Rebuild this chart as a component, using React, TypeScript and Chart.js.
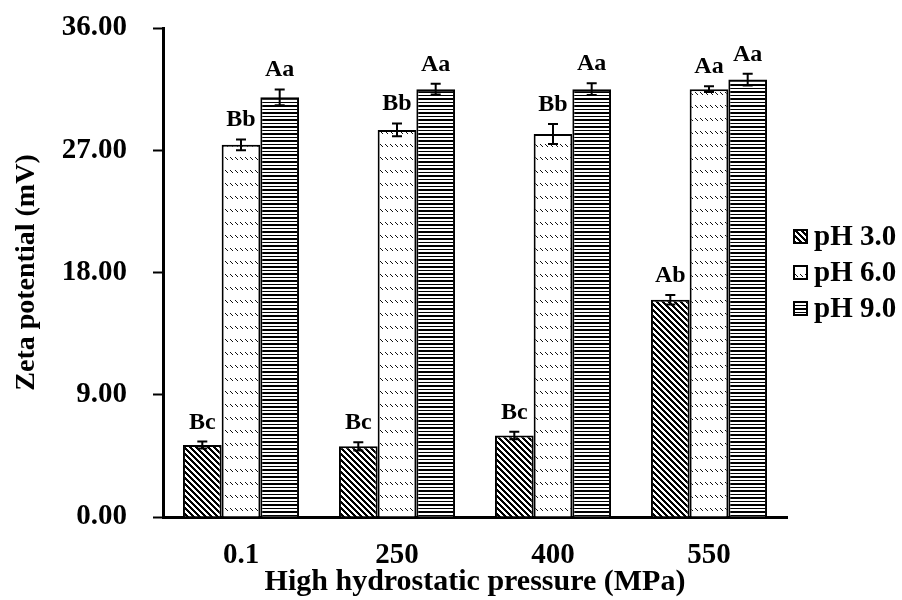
import React, { useEffect, useRef } from "react";
import { Chart, registerables } from "chart.js";

Chart.register(...registerables);

const categories = ["0.1", "250", "400", "550"];
const seriesNames = ["pH 3.0", "pH 6.0", "pH 9.0"];
const pH3 = [5.3, 5.2, 6.0, 16.0];
const pH6 = [27.4, 28.5, 28.2, 31.5];
const pH9 = [30.9, 31.5, 31.5, 32.2];
const err3 = [0.25, 0.3, 0.27, 0.35];
const err6 = [0.4, 0.47, 0.74, 0.22];
const err9 = [0.58, 0.4, 0.44, 0.43];
const letters3 = ["Bc", "Bc", "Bc", "Ab"];
const letters6 = ["Bb", "Bb", "Bb", "Aa"];
const letters9 = ["Aa", "Aa", "Aa", "Aa"];
const yTicks = [0, 9, 18, 27, 36];

const FONT = "'Liberation Serif', 'Times New Roman', serif";

function makePattern(kind: string): CanvasPattern | string {
  const c = document.createElement("canvas");
  let w = 6, h = 6;
  if (kind === "diag") { w = 6; h = 6; }
  if (kind === "dots") { w = 5; h = 13; }
  if (kind === "horiz") { w = 4; h = 7; }
  c.width = w; c.height = h;
  const ctx = c.getContext("2d")!;
  ctx.fillStyle = "#fff";
  ctx.fillRect(0, 0, w, h);
  ctx.fillStyle = "#000";
  if (kind === "diag") {
    for (let y = 0; y < h; y++) for (let x = 0; x < w; x++) {
      if (((x - y) % w + w) % w < 3) ctx.fillRect(x, y, 1, 1);
    }
  } else if (kind === "dots") {
    ctx.fillStyle = "#111";
    ctx.fillRect(0, 1, 1, 1);
    ctx.fillRect(1, 2, 1, 1);
    ctx.fillRect(2, 3, 1, 1);
  } else {
    ctx.fillRect(0, 0, w, 2);
    ctx.fillRect(0, 4, w, 1);
  }
  return ctx.createPattern(c, "repeat") || "#000";
}

export default function App() {
  const ref = useRef<HTMLCanvasElement | null>(null);
  useEffect(() => {
    if (!ref.current) return;
    const patterns = [makePattern("diag"), makePattern("dots"), makePattern("horiz")];
    const errs = [err3, err6, err9];
    const letters = [letters3, letters6, letters9];

    const overlay = {
      id: "overlay",
      afterDatasetsDraw(chart: any) {
        const ctx = chart.ctx as CanvasRenderingContext2D;
        const y = chart.scales.y;
        ctx.save();
        chart.data.datasets.forEach((ds: any, di: number) => {
          const meta = chart.getDatasetMeta(di);
          meta.data.forEach((bar: any, i: number) => {
            const v = ds.data[i];
            const e = errs[di][i];
            const x = bar.x;
            const yt = y.getPixelForValue(v + e);
            const yb = y.getPixelForValue(v - e);
            ctx.strokeStyle = "#000";
            ctx.lineWidth = 2;
            ctx.beginPath();
            ctx.moveTo(x, yt); ctx.lineTo(x, yb);
            ctx.moveTo(x - 5, yt); ctx.lineTo(x + 5, yt);
            ctx.moveTo(x - 5, yb); ctx.lineTo(x + 5, yb);
            ctx.stroke();
            ctx.fillStyle = "#000";
            ctx.font = `bold 24px ${FONT}`;
            ctx.textAlign = "center";
            ctx.textBaseline = "alphabetic";
            ctx.fillText(letters[di][i], x, yt - 13);
          });
        });
        // legend
        const area = chart.chartArea;
        const bx = area.right + 6;
        const tops = [229, 265, 301];
        seriesNames.forEach((name, i) => {
          const by = tops[i];
          ctx.fillStyle = patterns[i] as any;
          ctx.fillRect(bx, by, 15, 15);
          ctx.strokeStyle = "#000";
          ctx.lineWidth = 2;
          ctx.strokeRect(bx + 1, by + 1, 13, 13);
          ctx.fillStyle = "#000";
          ctx.font = `bold 29px ${FONT}`;
          ctx.textAlign = "left";
          ctx.textBaseline = "middle";
          ctx.fillText(name, bx + 21, by + 9);
        });
        ctx.restore();
      },
    };

    const chart = new Chart(ref.current, {
      type: "bar",
      data: {
        labels: categories,
        datasets: [pH3, pH6, pH9].map((d, i) => ({
          label: seriesNames[i],
          data: d,
          backgroundColor: patterns[i] as any,
          borderColor: "#000",
          borderWidth: 2,
          categoryPercentage: 0.744,
          barPercentage: 1.0,
        })),
      },
      options: {
        animation: false,
        responsive: true,
        maintainAspectRatio: false,
        layout: { padding: { left: 0, top: 28, right: 115, bottom: 0 } },
        plugins: { legend: { display: false }, tooltip: { enabled: false } },
        scales: {
          x: {
            grid: { display: false, drawTicks: false },
            border: { display: true, color: "#000", width: 3 },
            ticks: { color: "#000", font: { family: FONT, size: 29, weight: "bold" }, padding: 21 },
            title: {
              display: true,
              text: "High hydrostatic pressure (MPa)",
              color: "#000",
              font: { family: FONT, size: 30, weight: "bold" },
              padding: { top: 0, bottom: 0 },
            },
            afterFit(scale: any) { scale.height = 83; scale.paddingLeft = 0; scale.paddingRight = 0; },
          },
          y: {
            min: 0,
            max: 36,
            afterBuildTicks(scale: any) { scale.ticks = yTicks.map((v) => ({ value: v })); },
            grid: { drawOnChartArea: false, drawTicks: true, tickLength: 10, tickColor: "#000", tickWidth: 2 },
            border: { display: true, color: "#000", width: 3 },
            ticks: {
              color: "#000",
              padding: 26,
              font: { family: FONT, size: 29, weight: "bold" },
              callback: (v: any) => Number(v).toFixed(2),
            },
            title: {
              display: true,
              text: "Zeta potential (mV)",
              color: "#000",
              font: { family: FONT, size: 28, weight: "bold" },
              padding: { top: 10, bottom: 0 },
            },
            afterFit(scale: any) { scale.width = 163; scale.paddingTop = 0; scale.paddingBottom = 0; },
          },
        },
      },
      plugins: [overlay],
    });
    return () => chart.destroy();
  }, []);

  return (
    <div style={{ position: "fixed", left: 0, top: 0, width: 902, height: 600, background: "#fff" }}>
      <canvas ref={ref} />
    </div>
  );
}
